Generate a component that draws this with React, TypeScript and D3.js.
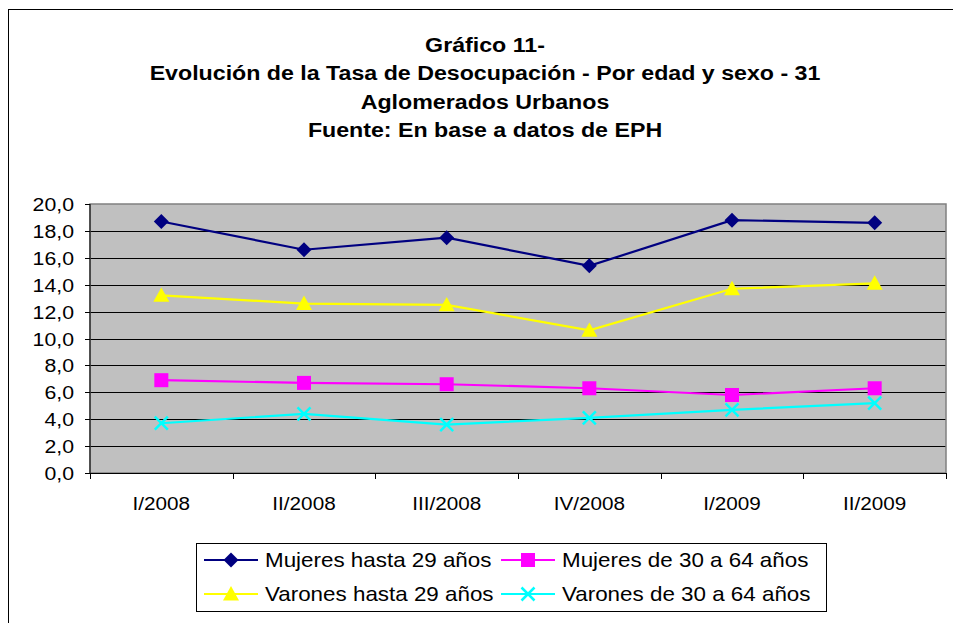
import React, { useEffect } from "react";
import * as d3 from "d3";

const categories = ["I/2008", "II/2008", "III/2008", "IV/2008", "I/2009", "II/2009"];
const mujeresHasta29 = [18.7, 16.6, 17.5, 15.4, 18.8, 18.6];
const mujeres30a64 = [6.9, 6.7, 6.6, 6.3, 5.8, 6.3];
const varonesHasta29 = [13.2, 12.6, 12.5, 10.6, 13.7, 14.1];
const varones30a64 = [3.7, 4.4, 3.6, 4.1, 4.7, 5.2];
const yTicks = [0, 2, 4, 6, 8, 10, 12, 14, 16, 18, 20];
const titleLines = [
  "Gráfico 11-",
  "Evolución de la Tasa de Desocupación - Por edad y sexo - 31",
  "Aglomerados Urbanos",
  "Fuente: En base a datos de EPH",
];

const series = [
  { name: "Mujeres hasta 29 años", values: mujeresHasta29, color: "#000080", marker: "diamond" },
  { name: "Mujeres de 30 a 64 años", values: mujeres30a64, color: "#FF00FF", marker: "square" },
  { name: "Varones hasta 29 años", values: varonesHasta29, color: "#FFFF00", marker: "triangle" },
  { name: "Varones de 30 a 64 años", values: varones30a64, color: "#00FFFF", marker: "x" },
];

const W = 953, H = 623;
const font = "'Liberation Sans', Arial, sans-serif";

function SText({ x, y, sx, size, anchor = "start", bold = false, children }: any) {
  return (
    <g transform={`translate(${x},${y}) scale(${sx},1)`}>
      <text x={0} y={0} textAnchor={anchor} fontSize={size} fontWeight={bold ? "bold" : "normal"} fill="#000">
        {children}
      </text>
    </g>
  );
}

function Marker({ type, x, y, color }: { type: string; x: number; y: number; color: string }) {
  if (type === "diamond") {
    const s = 7.5;
    return <path d={`M${x},${y - s}L${x + s},${y}L${x},${y + s}L${x - s},${y}Z`} fill={color} />;
  }
  if (type === "square") {
    const s = 7;
    return <rect x={x - s} y={y - s} width={2 * s} height={2 * s} fill={color} />;
  }
  if (type === "triangle") {
    const s = 8;
    return <path d={`M${x},${y - s}L${x + s},${y + s * 0.8}L${x - s},${y + s * 0.8}Z`} fill={color} />;
  }
  const s = 6.5;
  return (
    <path d={`M${x - s},${y - s}L${x + s},${y + s}M${x + s},${y - s}L${x - s},${y + s}`} stroke={color} strokeWidth={2.5} fill="none" />
  );
}

export default function App() {
  useEffect(() => {
    document.body.style.margin = "0";
  }, []);

  const left = 90, right = 946, top = 204, bottom = 473;
  const x = d3.scaleBand<string>().domain(categories).range([left, right]);
  const y = d3.scaleLinear().domain([0, 20]).range([bottom, top]);
  const cx = (c: string) => (x(c) as number) + x.bandwidth() / 2;
  const line = d3.line<number>().x((_, i) => cx(categories[i])).y((v) => y(v));

  const legendItems = [
    { s: series[0], lx: 204, ly: 560 },
    { s: series[1], lx: 501, ly: 560 },
    { s: series[2], lx: 204, ly: 594 },
    { s: series[3], lx: 501, ly: 594 },
  ];

  return (
    <svg width={W} height={H} style={{ display: "block" }} fontFamily={font}>
      <rect x={0} y={0} width={W} height={H} fill="#fff" />
      <rect x={8.5} y={9.5} width={W + 10} height={H + 10} fill="none" stroke="#000" strokeWidth={1} />
      {titleLines.map((t, i) => (
        <SText key={i} x={485} y={52 + i * 28.3} sx={1.16} size={20} anchor="middle" bold>
          {t}
        </SText>
      ))}
      <rect x={left} y={top} width={right - left} height={bottom - top} fill="#C0C0C0" />
      {yTicks.filter((t) => t > 0 && t < 20).map((t) => (
        <line key={t} x1={left} x2={right} y1={Math.round(y(t)) + 0.5} y2={Math.round(y(t)) + 0.5} stroke="#000" strokeWidth={1} />
      ))}
      <rect x={left} y={top} width={right - left} height={bottom - top} fill="none" stroke="#808080" strokeWidth={1.5} />
      <line x1={left} x2={left} y1={top} y2={bottom} stroke="#000" strokeWidth={1} />
      {yTicks.map((t) => (
        <g key={t}>
          <line x1={left - 5} x2={left} y1={Math.round(y(t)) + 0.5} y2={Math.round(y(t)) + 0.5} stroke="#000" />
          <SText x={left - 16} y={y(t) + 7} sx={1.12} size={19} anchor="end">
            {d3.format(".1f")(t).replace(".", ",")}
          </SText>
        </g>
      ))}
      <line x1={left} x2={right} y1={bottom + 0.5} y2={bottom + 0.5} stroke="#000" />
      {categories.map((c) => (
        <line key={c} x1={Math.round(x(c) as number) + 0.5} x2={Math.round(x(c) as number) + 0.5} y1={bottom} y2={bottom + 6} stroke="#000" />
      ))}
      <line x1={right + 0.5} x2={right + 0.5} y1={bottom} y2={bottom + 6} stroke="#000" />
      {categories.map((c) => (
        <SText key={c} x={cx(c)} y={510} sx={1.09} size={19} anchor="middle">
          {c}
        </SText>
      ))}
      {series.map((s) => (
        <g key={s.name}>
          <path d={line(s.values) || ""} fill="none" stroke={s.color} strokeWidth={2.2} />
          {s.values.map((v, i) => (
            <Marker key={i} type={s.marker} x={cx(categories[i])} y={y(v)} color={s.color} />
          ))}
        </g>
      ))}
      <rect x={196.5} y={543.5} width={630} height={68} fill="#fff" stroke="#000" strokeWidth={1} />
      {legendItems.map(({ s, lx, ly }) => (
        <g key={s.name}>
          <line x1={lx} x2={lx + 54} y1={ly} y2={ly} stroke={s.color} strokeWidth={2.2} />
          <Marker type={s.marker} x={lx + 27} y={ly} color={s.color} />
          <SText x={lx + 61} y={ly + 7} sx={1.12} size={20}>
            {s.name}
          </SText>
        </g>
      ))}
    </svg>
  );
}
